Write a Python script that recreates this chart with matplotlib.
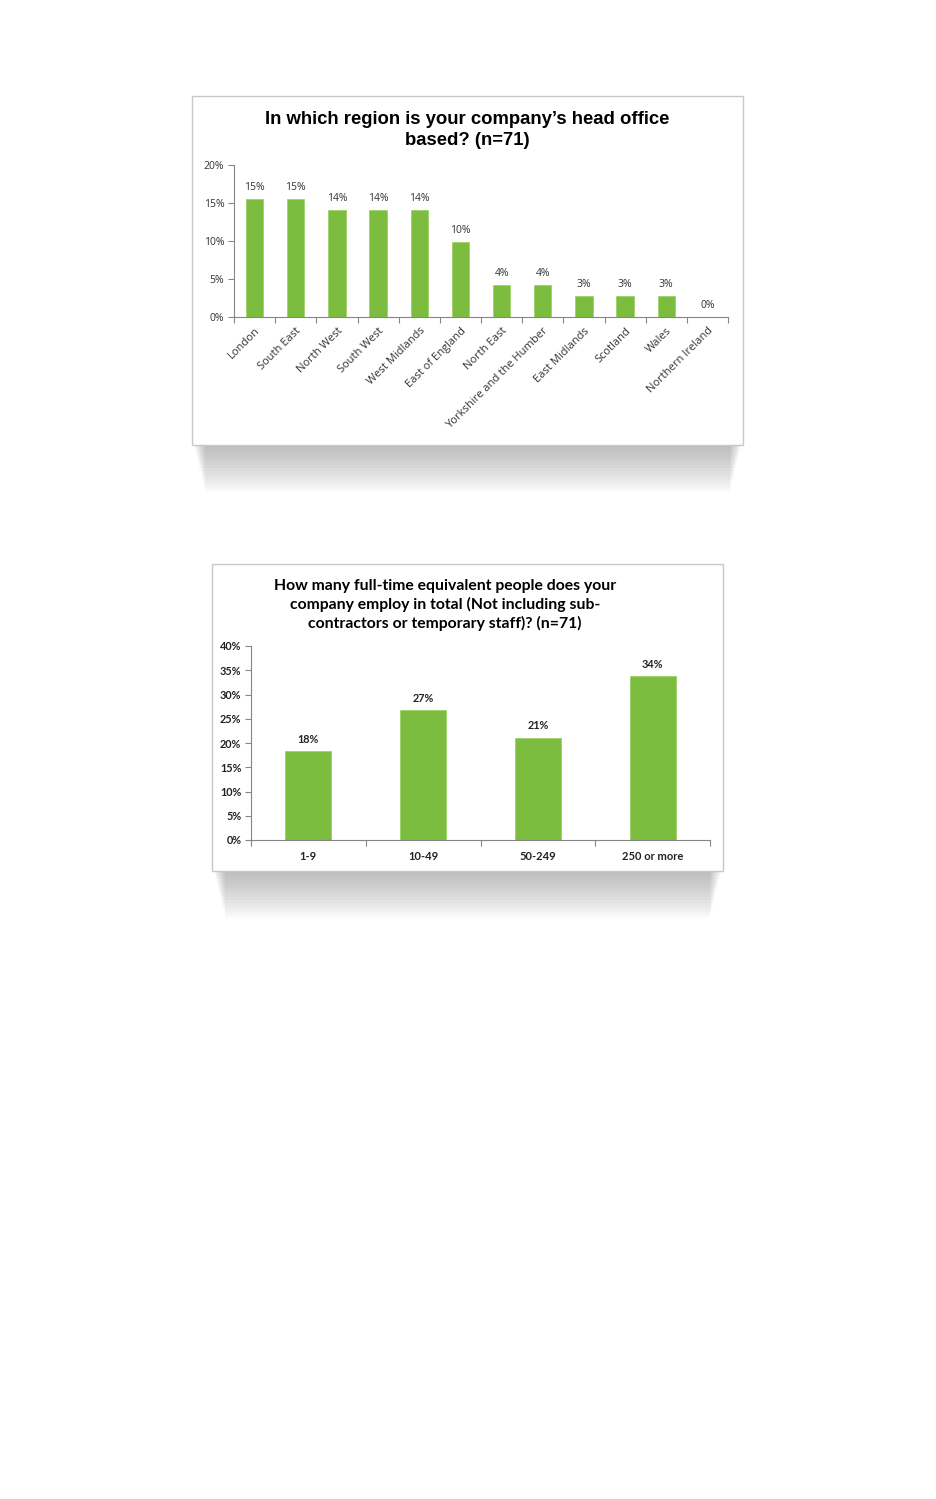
import numpy as np
import matplotlib
matplotlib.use('Agg')
import matplotlib.pyplot as plt
from matplotlib.patches import Rectangle

# data
regions = ['London', 'South East', 'North West', 'South West', 'West Midlands',
           'East of England', 'North East', 'Yorkshire and the Humber',
           'East Midlands', 'Scotland', 'Wales', 'Northern Ireland']
region_pct = [15.5, 15.5, 14.1, 14.1, 14.1, 9.9, 4.2, 4.2, 2.8, 2.8, 2.8, 0.0]
region_labels = ['15%', '15%', '14%', '14%', '14%', '10%', '4%', '4%', '3%', '3%', '3%', '0%']

sizes = ['1-9', '10-49', '50-249', '250 or more']
size_pct = [18.3, 26.8, 21.1, 33.8]
size_labels = ['18%', '27%', '21%', '34%']

W, H = 936, 1499
GREEN = '#7cbc3e'

fig = plt.figure(figsize=(W / 100, H / 100), dpi=100)
fig.patch.set_facecolor('white')


def px_rect(x0, y0, x1, y1):
    # pixel box (top-left origin) -> figure fraction rect
    return [x0 / W, 1 - y1 / H, (x1 - x0) / W, (y1 - y0) / H]


def box_with_shadow(x0, y0, x1, y1):
    # soft shadow under the box
    for i in range(16):
        d = i * 3
        fig.add_artist(Rectangle(((x0 + 2 + d * 0.25) / W, 1 - (y1 + 2 + d) / H),
                                 (x1 - x0 - 4 - d * 0.5) / W, (d + 6) / H,
                                 transform=fig.transFigure, facecolor='#808080',
                                 edgecolor='none', alpha=0.04, zorder=0))
    fig.add_artist(Rectangle((x0 / W, 1 - y1 / H), (x1 - x0) / W, (y1 - y0) / H,
                             transform=fig.transFigure, facecolor='white',
                             edgecolor='#c8c8c8', linewidth=1.0, zorder=1))


def style_axes(ax):
    ax.set_facecolor('none')
    for s in ['top', 'right']:
        ax.spines[s].set_visible(False)
    ax.spines['left'].set_color('#868686')
    ax.spines['bottom'].set_color('#868686')
    ax.spines['left'].set_linewidth(0.8)
    ax.spines['bottom'].set_linewidth(0.8)
    ax.tick_params(axis='y', length=4, color='#868686', width=0.8, pad=3)
    ax.tick_params(axis='x', length=4, color='#868686', width=0.8)


# ---------------- chart 1 ----------------
box_with_shadow(192, 96, 743, 445)
ax1 = fig.add_axes(px_rect(234, 165, 728, 317), zorder=2)
style_axes(ax1)
x1 = np.arange(len(regions))
ax1.bar(x1, region_pct, width=0.42, color=GREEN, edgecolor='#9fd16a', linewidth=0.6)
ax1.set_xlim(-0.5, len(regions) - 0.5)
ax1.set_ylim(0, 20)
ax1.set_yticks([0, 5, 10, 15, 20])
ax1.set_yticklabels(['0%', '5%', '10%', '15%', '20%'], fontsize=7.5,
                    family='Open Sans', color='#333333')
ax1.set_xticks(np.arange(len(regions) + 1) - 0.5)
ax1.set_xticklabels([])
ax1.set_xticks(x1, minor=True)
ax1.set_xticklabels(regions, minor=True, rotation=45, ha='right',
                    rotation_mode='anchor', fontsize=8, family='Open Sans',
                    color='#333333')
ax1.tick_params(axis='x', which='minor', length=0, pad=6)
for xi, v, lab in zip(x1, region_pct, region_labels):
    ax1.text(xi, v + 0.8, lab, ha='center', va='bottom', fontsize=7.5,
             family='Open Sans', color='#333333')
fig.text(467 / W, 1 - 130 / H, 'In which region is your company\u2019s head office\nbased? (n=71)',
         ha='center', va='center', fontsize=13.3, fontweight='bold',
         family='Liberation Sans', linespacing=1.38, zorder=3)

# ---------------- chart 2 ----------------
box_with_shadow(212, 564, 723, 871)
ax2 = fig.add_axes(px_rect(251, 646, 710, 840), zorder=2)
style_axes(ax2)
x2 = np.arange(len(sizes))
ax2.bar(x2, size_pct, width=0.4, color=GREEN, edgecolor='#9fd16a', linewidth=0.6)
ax2.set_xlim(-0.5, len(sizes) - 0.5)
ax2.set_ylim(0, 40)
ax2.set_yticks(np.arange(0, 41, 5))
ax2.set_yticklabels([f'{v}%' for v in range(0, 41, 5)], fontsize=7.8,
                    family='Lato', fontweight='bold', color='#222222')
ax2.set_xticks(np.arange(len(sizes) + 1) - 0.5)
ax2.set_xticklabels([])
ax2.set_xticks(x2, minor=True)
ax2.set_xticklabels(sizes, minor=True, fontsize=8, family='Lato',
                    fontweight='bold', color='#222222')
ax2.tick_params(axis='x', which='minor', length=0, pad=8)
for xi, v, lab in zip(x2, size_pct, size_labels):
    ax2.text(xi, v + 1.3, lab, ha='center', va='bottom', fontsize=7.8,
             family='Lato', fontweight='bold', color='#222222')
fig.text(445 / W, 1 - 605 / H,
         'How many full-time equivalent people does your\ncompany employ in total (Not including sub-\ncontractors or temporary staff)? (n=71)',
         ha='center', va='center', fontsize=11.3, fontweight='bold',
         family='Lato', linespacing=1.36, zorder=3)

fig.savefig('out.png', dpi=100, facecolor='white')
